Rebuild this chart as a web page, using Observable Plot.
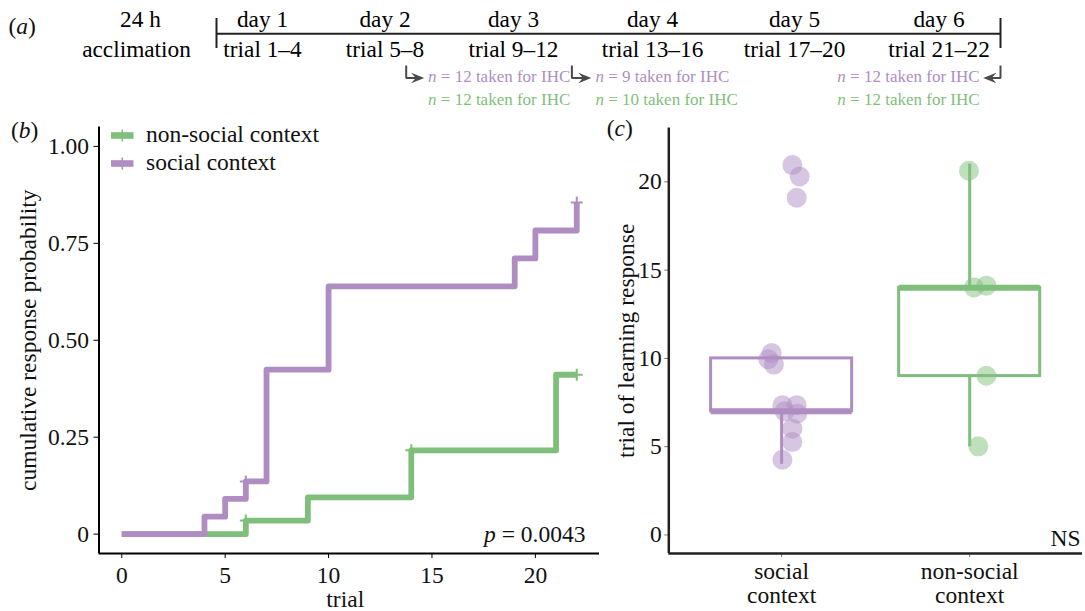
<!DOCTYPE html>
<html><head><meta charset="utf-8">
<script src="https://cdn.jsdelivr.net/npm/d3@7"></script>
<script src="https://cdn.jsdelivr.net/npm/@observablehq/plot@0.6"></script>
<style>
html,body{margin:0;padding:0;background:#fff;}
#fig{position:relative;width:1085px;height:611px;overflow:hidden;background:#fff;font-family:"Liberation Serif","Times New Roman",serif;}
#fig svg{position:absolute;}
</style></head><body><div id="fig"></div>
<script>
// ---------------- DATA ----------------
const purple = "#af8dc3", green = "#7fbf7b";
const legendGroups = ["non-social context", "social context"];

// panel (a): timeline
const dayLabels = ["day 1", "day 2", "day 3", "day 4", "day 5", "day 6"];
const trialLabels = ["trial 1–4", "trial 5–8", "trial 9–12", "trial 13–16", "trial 17–20", "trial 21–22"];
const dayIndex = [1, 2, 3, 4, 5, 6];
const acclimationLabels = ["24 h", "acclimation"];
const sampleAt = [2.165, 3.42, 6.5];      // day position of the IHC sampling arrows
const sampleDir = [1, 1, -1];
const sampleSocial = ["n = 12 taken for IHC", "n = 9 taken for IHC", "n = 12 taken for IHC"];
const sampleNonSocial = ["n = 12 taken for IHC", "n = 10 taken for IHC", "n = 12 taken for IHC"];

// panel (b): cumulative response curves
const socialTrial = [0, 4, 5, 6, 7, 10, 19, 20, 22];
const socialProb = [0, 0.045, 0.091, 0.136, 0.424, 0.639, 0.711, 0.783, 0.855];
const nonSocialTrial = [0, 6, 9, 14, 21, 22];
const nonSocialProb = [0, 0.035, 0.095, 0.216, 0.411, 0.411];
const socialCensorTrial = [6, 22];
const socialCensorProb = [0.136, 0.855];
const nonSocialCensorTrial = [6, 14, 22];
const nonSocialCensorProb = [0.035, 0.216, 0.411];
const bXTicks = [0, 5, 10, 15, 20];
const bYTicks = [0, 0.25, 0.5, 0.75, 1];
const bYTickLabels = ["0", "0.25", "0.50", "0.75", "1.00"];
const bXTitle = "trial";
const bYTitle = "cumulative response probability";
const pLabel = "p = 0.0043";

// panel (c): trial of learning response
const cCategories = ["social context", "non-social context"];
const cTickLabels = ["social\ncontext", "non-social\ncontext"];
const cYTicks = [0, 5, 10, 15, 20];
const socialLearnTrial = [4, 5, 6, 7, 7, 7, 7, 10, 10, 10, 19, 20, 21];
const nonSocialLearnTrial = [5, 9, 14, 14, 21];
const socialPointY = [20.95, 20.3, 19.1, 10.3, 9.95, 9.65, 7.35, 7.35, 7.0, 6.87, 6.02, 5.26, 4.26];
const socialPointJitter = [0.057, 0.096, 0.080, -0.053, -0.071, -0.041, 0.004, 0.080, 0.016, 0.083, 0.057, 0.057, 0.004];
const nonSocialPointY = [20.63, 14.02, 14.12, 9.02, 5.02];
const nonSocialPointJitter = [-0.004, 0.023, 0.089, 0.089, 0.046];
const cYTitle = "trial of learning response";
const nsLabel = "NS";

// ---------------- LAYOUT / STYLE ----------------
const FONT = "Liberation Serif, Times New Roman, serif";
const FS = 23.5;
const fig = document.getElementById("fig");
function place(svg, left, top) { svg.style.left = left + "px"; svg.style.top = top + "px"; fig.appendChild(svg); }
const baseStyle = {fontFamily: FONT, fontSize: FS + "px", background: "transparent", color: "#000", overflow: "visible"};

const plusSym = {draw(ctx, size) { const r = Math.sqrt(size / Math.PI); ctx.moveTo(-r, 0); ctx.lineTo(r, 0); ctx.moveTo(0, -r); ctx.lineTo(0, r); }};
const headSym = dir => ({draw(ctx, size) { const r = Math.sqrt(size / Math.PI); const L = 2 * r, H = 0.8 * r;
  ctx.moveTo(0, 0); ctx.lineTo(-dir * L, -H); ctx.lineTo(-dir * 0.65 * L, 0); ctx.lineTo(-dir * L, H); ctx.closePath(); }});

// ---------------- PANEL (a) ----------------
const A = {line: 33.3, barTop: 18, barBot: 48, dayBase: 26.5, trialBase: 56.5, arrowTop: 65, arrowMid: 77.5, noteS: 81, noteN: 104};
const days = dayLabels.map((d, i) => ({day: dayIndex[i], label: d, trial: trialLabels[i]}));
const samples = sampleAt.map((at, i) => ({at, dir: sampleDir[i], s: sampleSocial[i], n: sampleNonSocial[i]}));
const right = samples.filter(d => d.dir > 0), left = samples.filter(d => d.dir < 0);
const arrowPaths = samples.flatMap((d, i) => [
  {id: i, x: d.at, y: A.arrowTop}, {id: i, x: d.at, y: A.arrowMid}, {id: i, x: d.at + d.dir * 0.11, y: A.arrowMid}]);
const noteMarks = (data, anchor, sign) => [
  Plot.text(data, {x: d => d.at + sign * 0.17, y: A.noteS, text: "s", textAnchor: anchor, lineAnchor: "bottom", fill: purple, fontSize: 17}),
  Plot.text(data, {x: d => d.at + sign * 0.17, y: A.noteN, text: "n", textAnchor: anchor, lineAnchor: "bottom", fill: green, fontSize: 17})
];
const plotA = Plot.plot({
  width: 1085, height: 112, margin: 0,
  x: {type: "linear", domain: [0.5, 1, 2, 3, 4, 5, 6, 6.5], range: [216, 262, 384.5, 513, 652, 794, 938.5, 1000], axis: null},
  y: {type: "linear", domain: [0, 112], range: [0, 112], axis: null},
  style: baseStyle,
  marks: [
    Plot.ruleY([A.line], {x1: 0.5, x2: 6.5, stroke: "#222", strokeWidth: 2}),
    Plot.ruleX([0.5, 6.5], {y1: A.barTop, y2: A.barBot, stroke: "#222", strokeWidth: 2}),
    Plot.text(days, {x: "day", y: A.dayBase, text: "label", lineAnchor: "bottom", fontSize: 23.3}),
    Plot.text(days, {x: "day", y: A.trialBase, text: "trial", lineAnchor: "bottom", fontSize: 23.3}),
    Plot.text([acclimationLabels[0]], {x: 0.5, y: A.dayBase, dx: -76, text: d => d, lineAnchor: "bottom", fontSize: 23.3}),
    Plot.text([acclimationLabels[1]], {x: 0.5, y: A.trialBase, dx: -80, text: d => d, lineAnchor: "bottom", fontSize: 23.3}),
    Plot.line(arrowPaths, {x: "x", y: "y", z: "id", stroke: "#4a4a4a", strokeWidth: 2, strokeLinejoin: "miter", strokeLinecap: "butt"}),
    Plot.dot(right, {x: d => d.at + 0.14, y: A.arrowMid, symbol: headSym(1), r: 6.5, fill: "#4a4a4a", stroke: "none"}),
    Plot.dot(left, {x: d => d.at - 0.14, y: A.arrowMid, symbol: headSym(-1), r: 6.5, fill: "#4a4a4a", stroke: "none"}),
    ...noteMarks(right, "start", 1),
    ...noteMarks(left, "end", -1)
  ]
});
plotA.querySelectorAll("text").forEach(t => {
  const s = t.textContent;
  if (s.startsWith("n = ")) t.innerHTML = '<tspan font-style="italic">n</tspan> = ' + s.slice(4);
});
place(plotA, 0, 0);

// ---------------- PANEL (b) ----------------
const bLines = [
  ...nonSocialTrial.map((t, i) => ({group: legendGroups[0], trial: t, p: nonSocialProb[i]})),
  ...socialTrial.map((t, i) => ({group: legendGroups[1], trial: t, p: socialProb[i]}))
];
const bCensor = [
  ...nonSocialCensorTrial.map((t, i) => ({group: legendGroups[0], trial: t, p: nonSocialCensorProb[i]})),
  ...socialCensorTrial.map((t, i) => ({group: legendGroups[1], trial: t, p: socialCensorProb[i]}))
];
const bXDom = [-1.1, 23.1], bYDom = [-0.05, 1.05];
const plotB = Plot.plot({
  width: 600, height: 501,
  marginLeft: 98.5, marginRight: 1, marginTop: 16.5, marginBottom: 58,
  x: {domain: bXDom}, y: {domain: bYDom},
  color: {domain: legendGroups, range: [green, purple]},
  style: baseStyle,
  marks: [
    Plot.axisX({ticks: bXTicks, tickSize: 5, tickPadding: 8, fontSize: FS, label: null, stroke: "#000", fill: "#111"}),
    Plot.axisY({ticks: bYTicks, tickFormat: d => bYTickLabels[bYTicks.indexOf(d)], tickSize: 5, tickPadding: 5, fontSize: FS, label: null, stroke: "#000", fill: "#111"}),
    Plot.ruleX([bXDom[0]], {stroke: "#000", strokeWidth: 2}),
    Plot.ruleY([bYDom[0]], {stroke: "#000", strokeWidth: 2}),
    Plot.line(bLines, {x: "trial", y: "p", z: "group", stroke: "group", curve: "step-after", strokeWidth: 5.8, strokeLinecap: "butt", strokeLinejoin: "round"}),
    Plot.dot(bCensor, {x: "trial", y: "p", stroke: "group", symbol: plusSym, r: 6, strokeWidth: 2, fill: "none"}),
    Plot.text([pLabel], {frameAnchor: "bottom-right", dx: -14, dy: -12, text: d => d, textAnchor: "end", lineAnchor: "bottom", fontSize: FS, fill: "#111"}),
    Plot.text([bYTitle], {frameAnchor: "left", dx: -71, rotate: -90, text: d => d, textAnchor: "middle", lineAnchor: "middle", fontSize: FS, fill: "#111"}),
    Plot.text([bXTitle], {frameAnchor: "bottom", dx: -4, dy: 53.5, text: d => d, lineAnchor: "bottom", fontSize: FS, fill: "#111"})
  ]
});
plotB.querySelectorAll("text").forEach(t => {
  if (t.textContent === pLabel) t.innerHTML = '<tspan font-style="italic">p</tspan>' + pLabel.slice(1);
});
place(plotB, 0, 110);

// ---------------- PANEL (c) ----------------
const boxStats = cCategories.map((c, i) => {
  const v = (i === 0 ? socialLearnTrial : nonSocialLearnTrial).slice().sort(d3.ascending);
  const q1 = d3.quantile(v, 0.25), med = d3.quantile(v, 0.5), q3 = d3.quantile(v, 0.75), iqr = q3 - q1;
  const lo = d3.min(v.filter(d => d >= q1 - 1.5 * iqr)), hi = d3.max(v.filter(d => d <= q3 + 1.5 * iqr));
  return {cat: c, pos: i + 1, q1, med, q3, lo, hi};
});
const cPoints = [
  ...socialPointY.map((y, i) => ({cat: cCategories[0], x: 1 + socialPointJitter[i], y})),
  ...nonSocialPointY.map((y, i) => ({cat: cCategories[1], x: 2 + nonSocialPointJitter[i], y}))
];
const cXDom = [0.4, 2.6], cYDom = [-1.05, 23.05];
const half = 0.375;
const plotC = Plot.plot({
  width: 485, height: 501,
  marginLeft: 68.3, marginRight: 3, marginTop: 17.5, marginBottom: 58,
  x: {domain: cXDom}, y: {domain: cYDom},
  color: {domain: cCategories, range: [purple, green]},
  style: baseStyle,
  marks: [
    Plot.axisX({ticks: [1, 2], tickFormat: d => cTickLabels[d - 1], tickSize: 4, tickPadding: 5, lineHeight: 1.0, fontSize: FS, label: null, stroke: "#777", fill: "#111"}),
    Plot.axisY({ticks: cYTicks, tickSize: 4, tickPadding: 3, fontSize: FS, label: null, stroke: "#777", fill: "#111"}),
    Plot.ruleX([cXDom[0]], {stroke: "#222", strokeWidth: 2.5}),
    Plot.ruleY([cYDom[0]], {stroke: "#222", strokeWidth: 2.5}),
    Plot.ruleX(boxStats, {x: "pos", y1: "lo", y2: "q1", stroke: "cat", strokeWidth: 3}),
    Plot.ruleX(boxStats, {x: "pos", y1: "q3", y2: "hi", stroke: "cat", strokeWidth: 3}),
    Plot.rect(boxStats, {x1: d => d.pos - half, x2: d => d.pos + half, y1: "q1", y2: "q3", fill: "white", stroke: "cat", strokeWidth: 3}),
    Plot.ruleY(boxStats, {y: "med", x1: d => d.pos - half, x2: d => d.pos + half, stroke: "cat", strokeWidth: 6}),
    Plot.dot(cPoints, {x: "x", y: "y", fill: "cat", fillOpacity: 0.5, r: 10, stroke: "none"}),
    Plot.text([nsLabel], {frameAnchor: "bottom-right", dx: -2, dy: -8, text: d => d, textAnchor: "end", lineAnchor: "bottom", fontSize: FS, fill: "#111"}),
    Plot.text([cYTitle], {frameAnchor: "left", dx: -42.3, rotate: -90, text: d => d, textAnchor: "middle", lineAnchor: "middle", fontSize: FS, fill: "#111"})
  ]
});
place(plotC, 600, 110);

// ---------------- OVERLAY: panel letters & legend ----------------
const NSURI = "http://www.w3.org/2000/svg";
const ov = document.createElementNS(NSURI, "svg");
ov.setAttribute("width", 1085); ov.setAttribute("height", 611);
ov.style.left = "0px"; ov.style.top = "0px"; ov.style.pointerEvents = "none";
ov.setAttribute("font-family", FONT);
function txt(x, y, html, size, fill) {
  const t = document.createElementNS(NSURI, "text");
  t.setAttribute("x", x); t.setAttribute("y", y); t.setAttribute("font-size", size);
  t.setAttribute("fill", fill || "#111"); t.innerHTML = html; ov.appendChild(t);
}
txt(8.5, 33.5, '(<tspan font-style="italic">a</tspan>)', FS);
txt(11, 137.5, '(<tspan font-style="italic">b</tspan>)', FS);
txt(606.7, 136, '(<tspan font-style="italic">c</tspan>)', FS);
const legendColors = [green, purple];
const legendY = [135.5, 163.5];
legendGroups.forEach((g, i) => {
  const cy = legendY[i];
  const r = document.createElementNS(NSURI, "rect");
  r.setAttribute("x", 111); r.setAttribute("y", cy - 3.3); r.setAttribute("width", 22.5); r.setAttribute("height", 6.6);
  r.setAttribute("fill", legendColors[i]); ov.appendChild(r);
  const l = document.createElementNS(NSURI, "line");
  l.setAttribute("x1", 122.3); l.setAttribute("x2", 122.3); l.setAttribute("y1", cy - 6); l.setAttribute("y2", cy + 6);
  l.setAttribute("stroke", legendColors[i]); l.setAttribute("stroke-width", 1.6); ov.appendChild(l);
  txt(146, cy + 6.5, g, FS);
});
fig.appendChild(ov);
</script></body></html>
